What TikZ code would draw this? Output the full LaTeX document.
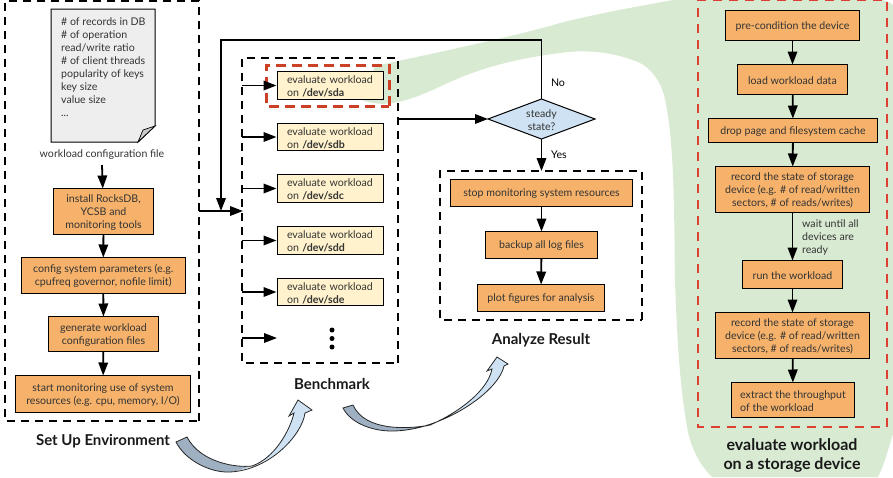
\documentclass[tikz,border=0pt]{standalone}
\usepackage{fontspec}
\setmainfont{Lato}
\usetikzlibrary{arrows.meta,shapes.geometric}
\definecolor{boxorange}{HTML}{F6B26B}
\definecolor{boxcream}{HTML}{FFF2CC}
\definecolor{paneGreen}{HTML}{D9EAD3}
\definecolor{docgrey}{HTML}{EEEEEE}
\definecolor{foldgrey}{HTML}{CCCCCC}
\definecolor{inkgrey}{HTML}{333333}
\definecolor{redline}{HTML}{DD4030}
\definecolor{redthick}{HTML}{CC4125}
\definecolor{flowlight}{HTML}{CFE2F3}
\definecolor{flowdark}{HTML}{9FB0C2}
\tikzset{
  basebox/.style={draw=black,line width=1pt,inner sep=0pt,outer sep=0pt},
  boxtext/.style={inner sep=0pt,align=center,text=inkgrey,font=\fontsize{10.6}{13}\selectfont},
  stepbox/.style={basebox,fill=boxorange},
  diskbox/.style={basebox,fill=boxcream},
  lefttext/.style={boxtext,align=left},
  disktext/.style={boxtext,align=left,text width=87pt},
  group/.style={draw=black,line width=1.7pt,dash pattern=on 8pt off 6pt},
  flow/.style={draw=black,line width=1.8pt,-{Triangle[length=13pt,width=9.5pt]}},
  caption/.style={font=\fontsize{15}{19}\selectfont\bfseries,text=black!90,align=center},
  bigcaption/.style={font=\fontsize{16}{19}\selectfont\bfseries,text=black!90,align=center},
  note/.style={font=\fontsize{10.6}{13}\selectfont,text=inkgrey,align=left},
  curveoutline/.style={draw=black!85,line width=.8pt,line join=miter},
}
% box given by its corners, with its text set a little below the centre:
% name, x1, y1, x2, y2, box style, text style, text
\newcommand{\cornerbox}[8]{%
  \node[#6,minimum width={#4-#2},minimum height={#5-#3}] (#1) at ({(#2+#4)/2},{(#3+#5)/2}) {};
  \node[#7] (#1-text) at ([yshift=-1pt]#1.center) {#8};}
\begin{document}
\begin{tikzpicture}[x=1pt,y=-1pt]
\useasboundingbox (0,0) rectangle (893,477);

% green pane that fans out from the first disk to the detailed procedure
\fill[paneGreen] (375,66) .. controls (440,52) and (520,35) .. (560,23)
  .. controls (600,13) and (640,6) .. (673,0) -- (880,0)
  .. controls (885,0) and (890,2) .. (893,5) -- (893,434)
  .. controls (888,450) and (884,465) .. (878,477) -- (712,477)
  .. controls (700,465) and (692,450) .. (688,432)
  .. controls (680,390) and (677,340) .. (675,280)
  .. controls (674,220) and (675,140) .. (664,95)
  .. controls (660,80) and (650,68) .. (640,63)
  .. controls (610,50) and (580,50) .. (560,53)
  .. controls (520,58) and (483,67) .. (450,82)
  .. controls (430,91) and (415,99) .. (393,103)
  .. controls (380,105) and (370,103) .. (362,100) -- cycle;

% configuration sheet with a folded corner
\draw[fill=docgrey,line width=1pt] (51,9) -- (155,9) -- (155,126) -- (138,142) -- (51,142) -- cycle;
\draw[fill=foldgrey,line width=.7pt] (155,126) -- (143,130) -- (138,142) -- cycle;
\node[note,anchor=north west,inner sep=0pt] (sheet) at (61,17)
  {\# of records in DB\\\# of operation\\read/write ratio\\\# of client threads\\popularity of keys\\key size\\value size\\...};
\node[note,align=center] (sheetname) at (102,155) {workload configuration file};

% group frames
\draw[group] (199,421) -- (199,1) -- (5,1) -- (5,421) -- cycle;
\draw[group] (398,363) -- (398,58) -- (242,58) -- (242,363) -- cycle;
\draw[group] (642,320) -- (642,171) -- (440,171) -- (440,320) -- cycle;
\draw[redthick,line width=3pt,dash pattern=on 10pt off 6pt] (389,106) -- (389,65) -- (266,65) -- (266,106) -- cycle;
\draw[redline,line width=1.5pt,dash pattern=on 9pt off 7pt] (887,427) -- (887,0) -- (698,0) -- (698,427) -- cycle;

% environment set-up
\cornerbox{install}{53.5}{188.5}{153.5}{234}{stepbox}{boxtext}{install RocksDB,\\YCSB and\\monitoring tools}
\cornerbox{config}{21.5}{257.5}{185}{293}{stepbox}{boxtext}{config system parameters (e.g.\\cpufreq governor, nofile limit)}
\cornerbox{generate}{48.5}{316.5}{158.5}{351.5}{stepbox}{boxtext}{generate workload\\configuration files}
\cornerbox{monitor}{15.5}{375.5}{190.5}{412.5}{stepbox}{boxtext}{start monitoring use of system\\resources (e.g. cpu, memory, I/O)}
\node[caption] (setup) at (103,441) {Set Up Environment};

% per-disk evaluations
\cornerbox{sda}{277.5}{71.5}{383.5}{99.5}{diskbox}{disktext}{evaluate workload\\on \textbf{/dev/sda}}
\cornerbox{sdb}{277.5}{123.5}{383.5}{150.5}{diskbox}{disktext}{evaluate workload\\on \textbf{/dev/sdb}}
\cornerbox{sdc}{277.5}{174.5}{383.5}{202.5}{diskbox}{disktext}{evaluate workload\\on \textbf{/dev/sdc}}
\cornerbox{sdd}{277.5}{226.5}{383.5}{254.5}{diskbox}{disktext}{evaluate workload\\on \textbf{/dev/sdd}}
\cornerbox{sde}{277.5}{278.5}{383.5}{305.5}{diskbox}{disktext}{evaluate workload\\on \textbf{/dev/sde}}
\node[caption] (bench) at (332,384) {Benchmark};
\foreach \dy in {330,338.5,347} \fill[black] (332,\dy) circle (2.5);

% decision
\node[diamond,draw=black,line width=1pt,fill=flowlight,minimum width=107pt,minimum height=40pt,inner sep=0pt,outer sep=0pt,
  aspect=2.67] (steady) at (541.5,119) {};
\node[boxtext] (steady-text) at ([yshift=-1pt]steady.center) {steady\\state?};
\node[note,text=black] (no) at (558,83) {No};
\node[note,text=black] (yes) at (559,155) {Yes};

% result analysis
\cornerbox{stop}{450.5}{179.5}{632.5}{206.5}{stepbox}{boxtext}{stop monitoring system resources}
\cornerbox{backup}{485.5}{231.5}{597.5}{258.5}{stepbox}{boxtext}{backup all log files}
\cornerbox{plot}{477.5}{284.5}{604.5}{311.5}{stepbox}{boxtext}{plot figures for analysis}
\node[caption] (analyze) at (541,340) {Analyze Result};

% detailed procedure for a single device
\cornerbox{precond}{725.5}{10.5}{859.5}{40.5}{stepbox}{boxtext}{pre-condition the device}
\cornerbox{load}{737.5}{64.5}{847.5}{94.5}{stepbox}{boxtext}{load workload data}
\cornerbox{drop}{708.5}{118.5}{877.5}{142.5}{stepbox}{boxtext}{drop page and filesystem cache}
\cornerbox{recorda}{715.5}{166.5}{869.5}{212.5}{stepbox}{boxtext}{record the state of storage\\device (e.g. \# of read/written\\sectors, \# of reads/writes)}
\cornerbox{run}{742.5}{260.5}{842.5}{288.5}{stepbox}{boxtext}{run the workload}
\cornerbox{recordb}{715.5}{312.5}{869.5}{358.5}{stepbox}{boxtext}{record the state of storage\\device (e.g. \# of read/written\\sectors, \# of reads/writes)}
\cornerbox{extract}{731.5}{382.5}{854.5}{417.5}{stepbox}{lefttext}{extract the throughput\\of the workload}
\node[note,anchor=west,inner sep=0pt] (wait) at (802,237) {wait until all\\devices are\\ready};
\node[bigcaption] (paneltitle) at (792,455) {evaluate workload\\on a storage device};

% connectors inside the groups
\coordinate (sheetout) at (102,165);
\draw[flow] (sheetout) -- (install);
\draw[flow] (install) -- (config);
\draw[flow] (config) -- (generate);
\draw[flow] (generate) -- (monitor);
\draw[flow] (stop) -- (backup);
\draw[flow] (backup) -- (plot);
\draw[flow] (precond) -- (load);
\draw[flow] (load) -- (drop);
\draw[flow] (drop) -- (recorda);
\draw[flow] (recorda) -- (run);
\draw[flow] (run) -- (recordb);
\draw[flow] (recordb) -- (extract);

% fan-out to the disks
\coordinate (benchin) at (243,211);
\coordinate (setupout) at (199,211);
\coordinate (retry) at (221,211);
\coordinate (analyzein) at (541.5,171);
\coordinate (benchout) at (398,119);
\coordinate (fanend) at (277,338);
\draw[flow] (setupout) -- (benchin);
\draw[flow] (steady.north) -- (541.5,40) -- (221,40) -- (retry);
\draw[flow] (benchout) -- (steady.west);
\draw[flow] (steady.south) -- (analyzein);
\foreach \target in {sda,sdb,sdc,sdd,sde}
  \draw[flow,shorten >=1pt] (242,0 |- \target.west) -- (\target.west);
\draw[flow] (242,338) -- (fanend);

% curved arrows between the phases
\fill[flowdark] (176,442) .. controls (185,460) and (210,473) .. (230,472)
  .. controls (238,471) and (245,469) .. (252,466)
  .. controls (235,468) and (200,462) .. (187,437) -- cycle;
\fill[flowlight] (252,466) .. controls (275,458) and (290,430) .. (294,413) -- (289,416) -- (298,400) -- (312,410) -- (305,413)
  .. controls (302,435) and (275,463) .. (238,470) -- cycle;
\draw[curveoutline] (176,442) .. controls (185,460) and (210,473) .. (230,472)
  .. controls (270,470) and (302,435) .. (305,413) -- (312,410) -- (298,400) -- (289,416) -- (294,413)
  .. controls (290,430) and (275,458) .. (252,466)
  .. controls (235,468) and (200,462) .. (187,437) -- cycle;

\fill[flowdark] (343,408) .. controls (350,422) and (370,431) .. (392,431)
  .. controls (405,431) and (420,428) .. (432,425)
  .. controls (410,429) and (365,432) .. (353,405) -- cycle;
\fill[flowlight] (430,425) .. controls (460,412) and (488,390) .. (492,369) -- (487,371) -- (497,357) -- (508,364) -- (504,366)
  .. controls (500,385) and (470,412) .. (420,428) -- cycle;
\draw[curveoutline] (343,408) .. controls (350,422) and (370,431) .. (392,431)
  .. controls (440,431) and (498,393) .. (504,366) -- (508,364) -- (497,357) -- (487,371) -- (492,369)
  .. controls (488,390) and (460,412) .. (430,425)
  .. controls (410,429) and (365,432) .. (353,405) -- cycle;
\end{tikzpicture}
\end{document}
